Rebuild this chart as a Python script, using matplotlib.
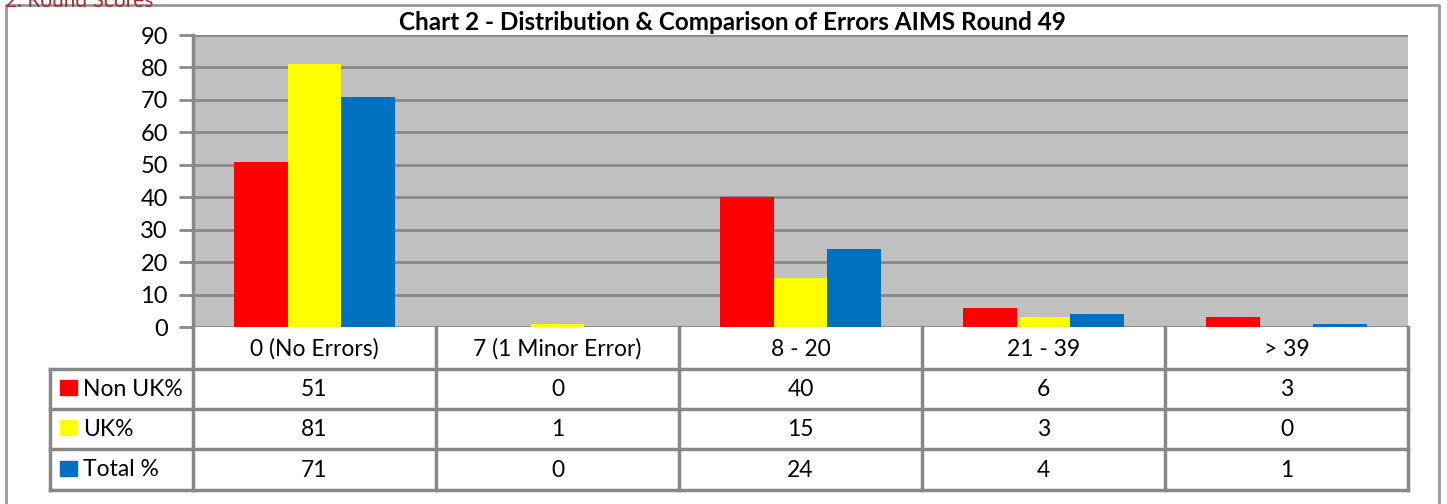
import numpy as np
import matplotlib.pyplot as plt

# data
categories = ['0 (No Errors)', '7 (1 Minor Error)', '8 - 20', '21 - 39', '> 39']
series_names = ['Non UK%', 'UK%', 'Total %']
non_uk = [51, 0, 40, 6, 3]
uk = [81, 1, 15, 3, 0]
total = [71, 0, 24, 4, 1]
colors = ['#FF0000', '#FFFF00', '#0070C0']
yticks = [0, 10, 20, 30, 40, 50, 60, 70, 80, 90]

plt.rcParams['font.family'] = ['Lato', 'DejaVu Sans']

W, H = 1447, 504
fig = plt.figure(figsize=(W / 100, H / 100), dpi=100)

# plot area in pixels
px_l, px_r, px_t, px_b = 193, 1408, 35, 327
ax = fig.add_axes([px_l / W, 1 - px_b / H, (px_r - px_l) / W, (px_b - px_t) / H])
ax.set_facecolor('#C0C0C0')

x = np.arange(len(categories))
bw = 0.22
for i, vals in enumerate([non_uk, uk, total]):
    ax.bar(x + (i - 1) * bw, vals, bw, color=colors[i], zorder=3)

ax.set_xlim(-0.5, len(categories) - 0.5)
ax.set_ylim(0, 90)
ax.set_yticks(yticks)
ax.set_xticks([])
ax.tick_params(axis='y', length=10, width=2, color='#888888', labelsize=17, pad=8)
ax.grid(axis='y', color='#888888', linewidth=2, zorder=1)
for s in ['right', 'bottom', 'top']:
    ax.spines[s].set_visible(False)
ax.spines['left'].set_color('#888888')
ax.spines['left'].set_linewidth(2.5)

fig.text(732 / W, 1 - 22 / H, 'Chart 2 - Distribution & Comparison of Errors AIMS Round 49',
         ha='center', va='center', fontsize=17.5, fontweight='bold')

# overlay for table and frame, pixel coordinates
ov = fig.add_axes([0, 0, 1, 1], facecolor='none')
ov.set_xlim(0, W)
ov.set_ylim(H, 0)
ov.axis('off')

# outer frame and cropped section heading
ov.plot([6, 6, 1439, 1439], [H, 5, 5, H], color='#999999', lw=2)
ov.text(5, 7, '2. Round Scores', color='#A03232', fontsize=15, va='baseline', ha='left')

lc = '#888888'
lw = 2.5
col_x = np.linspace(px_l, px_r, len(categories) + 1)
row_y = [327, 369, 409, 449, 490]
lab_l = 50
fs = 16.5

# header row
for c, name in enumerate(categories):
    ov.text((col_x[c] + col_x[c + 1]) / 2, (row_y[0] + row_y[1]) / 2 + 1, name,
            ha='center', va='center', fontsize=fs)
# vertical lines
for c, cx in enumerate(col_x):
    ov.plot([cx, cx], [row_y[0], row_y[-1]], color=lc, lw=lw)
ov.plot([lab_l, lab_l], [row_y[1], row_y[-1]], color=lc, lw=lw)
# horizontal lines
for r, ry in enumerate(row_y[1:]):
    ov.plot([lab_l, px_r], [ry, ry], color=lc, lw=lw)

for r, (name, vals) in enumerate(zip(series_names, [non_uk, uk, total])):
    yc = (row_y[r + 1] + row_y[r + 2]) / 2
    ov.add_patch(plt.Rectangle((60, yc - 9), 17, 15, color=colors[r]))
    ov.text(83, yc, name, ha='left', va='center', fontsize=fs)
    for c, v in enumerate(vals):
        ov.text((col_x[c] + col_x[c + 1]) / 2, yc + 1, str(v), ha='center', va='center', fontsize=fs)

fig.savefig('out.png', dpi=100)
